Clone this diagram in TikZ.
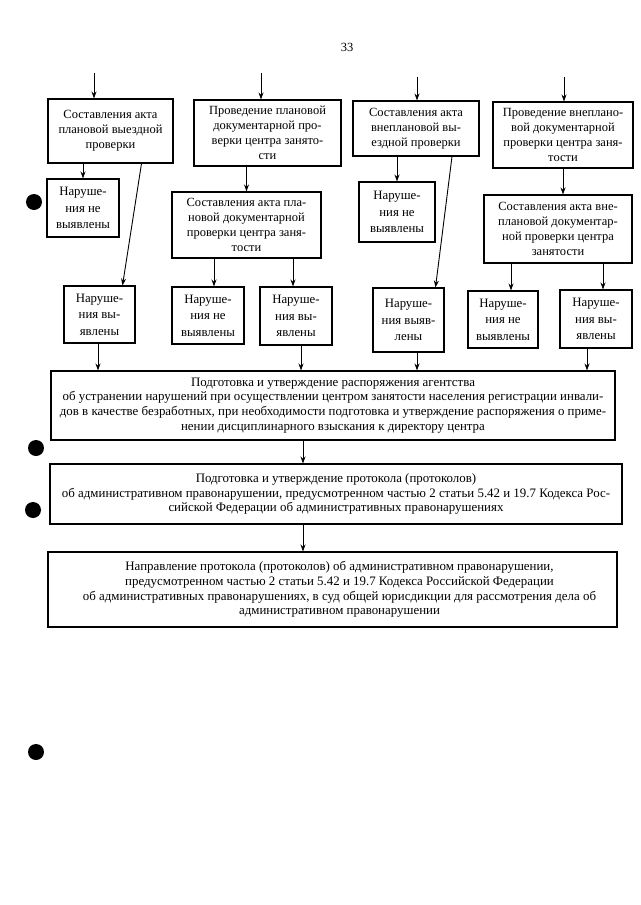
\documentclass[tikz,border=0pt]{standalone}
\usepackage{fontspec}
\setmainfont{Liberation Serif}
\usepackage{tikz}
\usetikzlibrary{arrows.meta,positioning}

\newcommand{\boxfont}{\fontsize{12.5}{15}\selectfont}
\newcommand{\smallfont}{\fontsize{12.8}{16.5}\selectfont}
\newcommand{\widefont}{\fontsize{12.9}{14.7}\selectfont}

\begin{document}
\begin{tikzpicture}[x=1pt, y=-1pt,
        block/.style={rectangle, draw=black, line width=1.1pt, align=center,
        inner sep=1pt, font=\boxfont},
        result/.style={block, font=\smallfont, minimum width=72, minimum height=58},
        wide/.style={block, font=\widefont},
        arr/.style={draw=black, line width=0.9pt, -{Stealth[length=7pt,width=5pt]}}]
        \useasboundingbox (0,0) rectangle (640,905);

        \node (page) at (347,47) {\fontsize{12.5}{14}\selectfont 33};

        % upper row
        \node (plan1) [block, minimum width=125, minimum height=64] at (110.5,131)
            {Составления акта\\плановой выездной\\проверки};
        \node (plan2) [block, minimum width=147, minimum height=66] at (267.5,133)
            {Проведение плановой\\документарной про-\\верки центра занято-\\сти};
        \node (unplan1) [block, minimum width=126, minimum height=55] at (416,128.5)
            {Составления акта\\внеплановой вы-\\ездной проверки};
        \node (unplan2) [block, minimum width=140, minimum height=66] at (563,135)
            {Проведение внеплано-\\вой документарной\\проверки центра заня-\\тости};

        \coordinate (in1) at (94,73);
        \coordinate (in2) at (261,73);
        \coordinate (in3) at (417,77);
        \coordinate (in4) at (564,77);

        % acts of documentary checks
        \node (act2) [block, minimum width=149, minimum height=66] at (246.5,225)
            {Составления акта пла-\\новой документарной\\проверки центра заня-\\тости};
        \node (act4) [block, minimum width=148, minimum height=68] at (558,229)
            {Составления акта вне-\\плановой документар-\\ной проверки центра\\занятости};

        % results
        \node (no1) [result] at (83,208) {Наруше-\\ния не\\выявлены};
        \node (no3) [result, minimum width=76, minimum height=60] at (397,212) {Наруше-\\ния не\\выявлены};
        \node (yes1) [result, minimum width=71, minimum height=57] at (99.5,314.5) {Наруше-\\ния вы-\\явлены};
        \node (no2) [result, minimum height=57] at (208,315.5) {Наруше-\\ния не\\выявлены};
        \node (yes2) [result] at (296,316) {Наруше-\\ния вы-\\явлены};
        \node (yes3) [result, minimum width=71, minimum height=64] at (408.5,320) {Наруше-\\ния выяв-\\лены};
        \node (no4) [result, minimum width=70, minimum height=57] at (503,319.5) {Наруше-\\ния не\\выявлены};
        \node (yes4) [result] at (596,319) {Наруше-\\ния вы-\\явлены};

        % lower row
        \node (order) [wide, minimum width=564, minimum height=69] at (333,405.5)
            {Подготовка и утверждение распоряжения агентства\\
            об устранении нарушений при осуществлении центром занятости населения регистрации инвали-\\
            дов в качестве безработных, при необходимости подготовка и утверждение распоряжения о приме-\\
            нении дисциплинарного взыскания к директору центра};
        \node (protocol) [wide, minimum width=572, minimum height=60] at (336,494)
            {Подготовка и утверждение протокола (протоколов)\\
            об административном правонарушении, предусмотренном частью 2 статьи 5.42 и 19.7 Кодекса Рос-\\
            сийской Федерации об административных правонарушениях};
        \node (court) [wide, minimum width=569, minimum height=75] at (332.5,589.5)
            {\hspace*{14pt}Направление протокола (протоколов) об административном правонарушении,\\
            \hspace*{14pt}предусмотренном частью 2 статьи 5.42 и 19.7 Кодекса Российской Федерации\\
            \hspace*{14pt}об административных правонарушениях, в суд общей юрисдикции для рассмотрения дела об\\
            \hspace*{14pt}административном правонарушении};

        % connectors
        \draw[arr] (in1) -- (in1 |- plan1.north);
        \draw[arr] (in2) -- (in2 |- plan2.north);
        \draw[arr] (in3) -- (in3 |- unplan1.north);
        \draw[arr] (in4) -- (in4 |- unplan2.north);

        \draw[arr] (no1 |- plan1.south) -- (no1);
        \draw[arr] ([xshift=31pt]plan1.south) -- ([xshift=23pt]yes1.north);
        \draw[arr] (act2 |- plan2.south) -- (act2);
        \draw[arr] ([xshift=6pt]no2.north |- act2.south) -- ([xshift=6pt]no2.north);
        \draw[arr] ([xshift=-3pt]yes2.north |- act2.south) -- ([xshift=-3pt]yes2.north);
        \draw[arr] (no3 |- unplan1.south) -- (no3);
        \draw[arr] ([xshift=36pt]unplan1.south) -- ([xshift=27pt]yes3.north);
        \draw[arr] (unplan2.south) -- (unplan2.south |- act4.north);
        \draw[arr] ([xshift=8pt]no4.north |- act4.south) -- ([xshift=8pt]no4.north);
        \draw[arr] ([xshift=7pt]yes4.north |- act4.south) -- ([xshift=7pt]yes4.north);

        \draw[arr] ([xshift=-1.5pt]yes1.south) -- ([xshift=-1.5pt]yes1.south |- order.north);
        \draw[arr] ([xshift=5pt]yes2.south) -- ([xshift=5pt]yes2.south |- order.north);
        \draw[arr] ([xshift=8.5pt]yes3.south) -- ([xshift=8.5pt]yes3.south |- order.north);
        \draw[arr] ([xshift=-9pt]yes4.south) -- ([xshift=-9pt]yes4.south |- order.north);

        \draw[arr] ([xshift=-30pt]order.south) -- ([xshift=-30pt]order.south |- protocol.north);
        \draw[arr] ([xshift=-33pt]protocol.south) -- ([xshift=-33pt]protocol.south |- court.north);

        % punch holes
        \fill (34,202) circle (8);
        \fill (36,448) circle (8);
        \fill (33,510) circle (8);
        \fill (36,752) circle (8);
    \end{tikzpicture}
\end{document}
